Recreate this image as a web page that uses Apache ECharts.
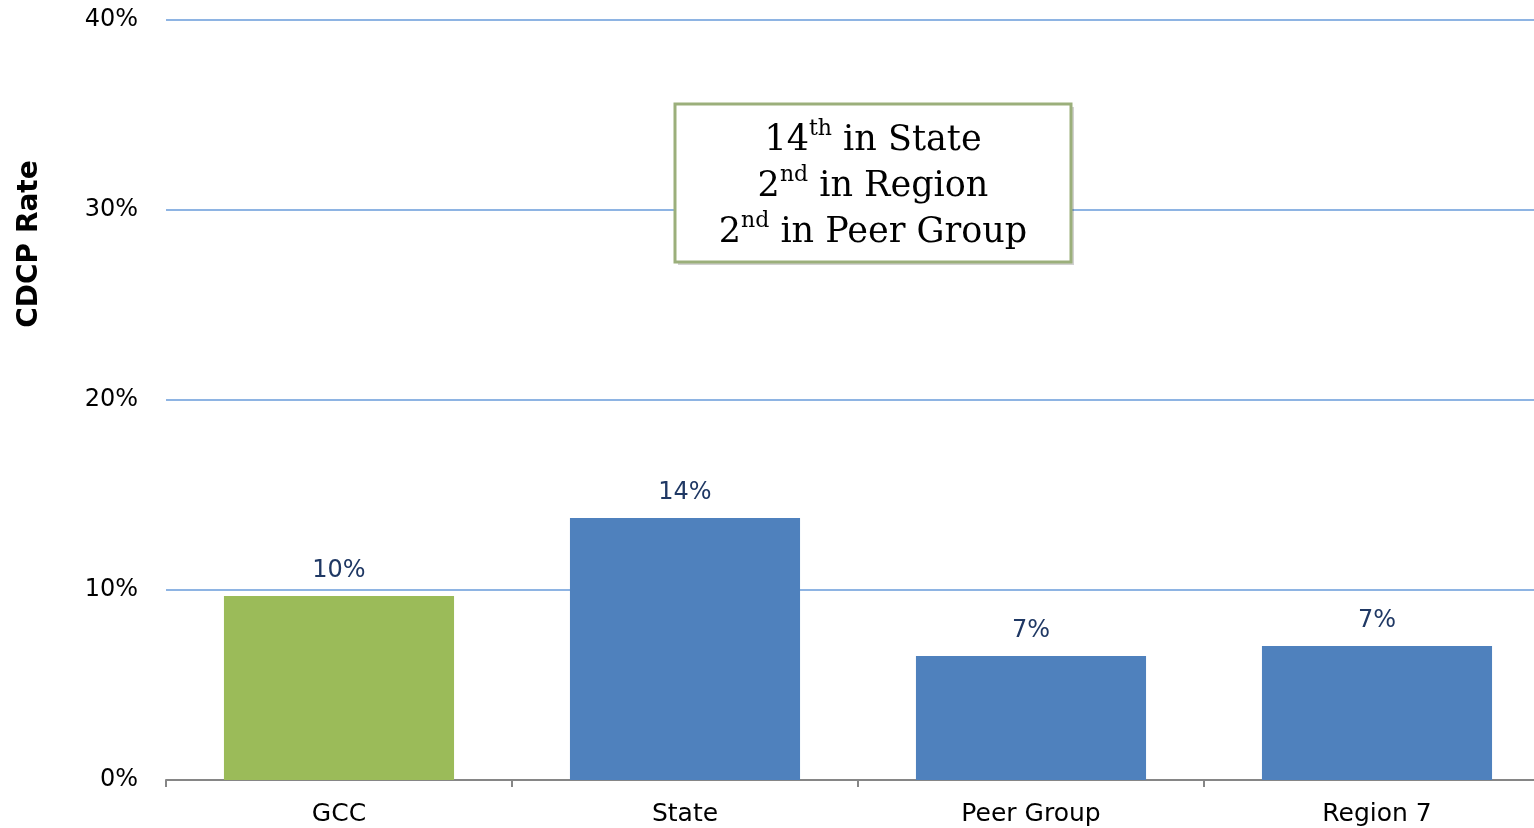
<!DOCTYPE html>
<html><head><meta charset="utf-8">
<script src="https://cdn.jsdelivr.net/npm/echarts@6/dist/echarts.min.js"></script>
<style>html,body{margin:0;padding:0;background:#fff}#c{width:1534px;height:828px}</style>
</head><body><div id="c"></div>
<script>
const categories = ['GCC', 'State', 'Peer Group', 'Region 7'];
const values = [9.68, 13.79, 6.53, 7.05];
const barColors = ['#9BBB59', '#4F81BD', '#4F81BD', '#4F81BD'];
const yTicks = [0, 10, 20, 30, 40];
const yTitle = 'CDCP Rate';
const rankLines = [['14', 'th', ' in State'], ['2', 'nd', ' in Region'], ['2', 'nd', ' in Peer Group']];

const chart = echarts.init(document.getElementById('c'));
const font = '"DejaVu Sans", Verdana, sans-serif';
const serif = '"DejaVu Serif", "Liberation Serif", serif';
const boxText = rankLines.map(l => '{n|' + l[0] + '}{s|' + l[1] + '}{n|' + l[2] + '}').join('\n');

chart.setOption({
  animation: false,
  grid: { left: 166, width: 1384, top: 20, bottom: 48, containLabel: false, outerBoundsMode: 'none' },
  xAxis: {
    type: 'category', data: categories,
    axisLine: { lineStyle: { color: '#868686', width: 2 } },
    axisTick: { show: true, length: 7, lineStyle: { color: '#868686', width: 2 } },
    axisLabel: { color: '#000', fontSize: 25, fontFamily: font, margin: 22 }
  },
  yAxis: {
    type: 'value', min: yTicks[0], max: yTicks[yTicks.length - 1], interval: 10,
    axisLine: { show: false }, axisTick: { show: false },
    splitLine: { lineStyle: { color: '#8EB4E3', width: 2 } },
    axisLabel: { color: '#000', fontSize: 24, fontFamily: font, margin: 28, formatter: v => v + '%' }
  },
  series: [{
    type: 'bar', barWidth: '66.5%',
    data: values.map((v, i) => ({ value: v, itemStyle: { color: barColors[i] } })),
    label: { show: true, position: 'top', distance: 13, color: '#1F3864', fontSize: 24, fontFamily: font,
      formatter: p => Math.round(p.value) + '%' }
  }],
  graphic: [
    { type: 'text', x: 30, y: 244, rotation: Math.PI / 2,
      style: { text: yTitle, fontSize: 28, fontWeight: 'bold', fontFamily: font, fill: '#000', align: 'center', verticalAlign: 'middle' } },
    { type: 'rect', shape: { x: 678, y: 107, width: 396, height: 158 }, style: { fill: 'rgba(0,0,0,0.18)' }, z: 10 },
    { type: 'rect', shape: { x: 675, y: 104, width: 396, height: 158 }, style: { fill: '#fff', stroke: '#9BAF7B', lineWidth: 3 }, z: 11 },
    { type: 'text', x: 873, y: 187, z: 12,
      style: { text: boxText, align: 'center', verticalAlign: 'middle', fill: '#000',
        rich: {
          n: { fontSize: 35, fontFamily: serif, lineHeight: 46, fill: '#000' },
          s: { fontSize: 22, fontFamily: serif, lineHeight: 46, fill: '#000', verticalAlign: 'top', padding: [0, 0, 12, 0] }
        } } }
  ]
});
</script></body></html>
